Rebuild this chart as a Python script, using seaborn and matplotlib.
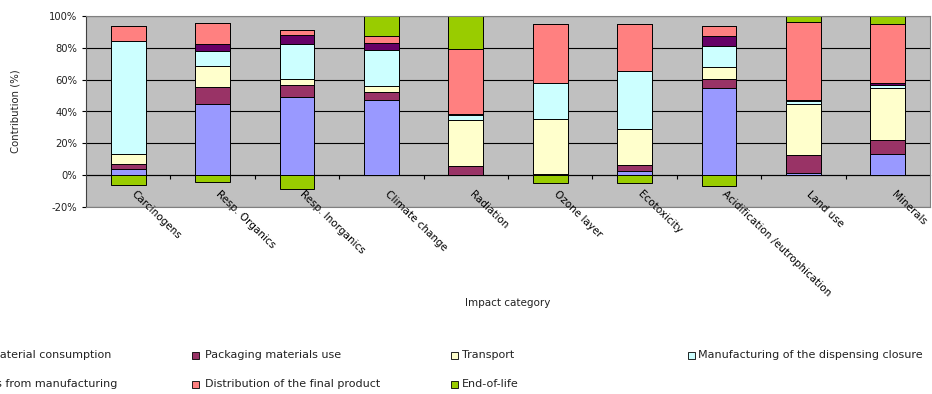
import matplotlib
matplotlib.use("Agg")
import matplotlib.pyplot as plt
from matplotlib.patches import Rectangle
import numpy as np
import seaborn as sns

# Impact categories on the x axis
categories = [
    "Carcinogens", "Resp. Organics", "Resp. Inorganics", "Climate change",
    "Radiation", "Ozone layer", "Ecotoxicity",
    "Acidification /eutrophication", "Land use", "Minerals",
]

# Contribution of each life-cycle stage (%) per impact category
raw_material = [3.6, 44.6, 49.2, 47.1, 0.0, 0.0, 2.5, 55.0, 1.5, 13.0]
packaging = [3.7, 10.9, 7.7, 5.2, 5.6, 0.5, 3.8, 5.4, 11.1, 9.0]
transport = [6.3, 13.4, 3.3, 3.6, 28.9, 34.6, 22.6, 7.7, 32.4, 32.8]
closure = [70.7, 9.0, 22.2, 23.0, 3.6, 23.0, 36.4, 13.0, 1.5, 1.7]
wastes = [0.3, 4.2, 5.4, 4.2, 0.2, 0.0, 0.4, 6.3, 0.6, 1.3]
distribution = [9.2, 13.6, 3.1, 4.2, 41.0, 37.0, 29.5, 6.1, 48.9, 37.0]
end_of_life = [-6.3, -4.2, -9.0, 12.7, 20.7, -4.8, -4.8, -6.5, 4.0, 5.2]

series_names = [
    "Raw material consumption", "Packaging materials use", "Transport",
    "Manufacturing of the dispensing closure", "Wastes from manufacturing",
    "Distribution of the final product", "End-of-life",
]
series_colors = ["#9999FF", "#993366", "#FFFFCC", "#CCFFFF",
                 "#660066", "#FF8080", "#99CC00"]
y_ticks = [-20, 0, 20, 40, 60, 80, 100]

sns.set_style("white")
plt.rcParams["font.family"] = ["DejaVu Sans"]

W, H = 932, 394
fig = plt.figure(figsize=(W / 100, H / 100), dpi=100)
ax = fig.add_axes([86 / W, 1 - 207 / H, (930 - 86) / W, (207 - 16) / H])
ax.set_facecolor("#C0C0C0")

values = np.array([raw_material, packaging, transport, closure,
                   wastes, distribution, end_of_life])
positive = np.clip(values, 0, None)
stack_tops = np.cumsum(positive, axis=0)
negative_eol = np.clip(values[-1], None, 0)

bar_kws = dict(width=0.41, saturation=1, edgecolor="black",
               linewidth=0.7, errorbar=None, ax=ax, order=categories)

# Stacked bars: draw cumulative totals from the top layer downwards
for k in range(len(series_names) - 1, -1, -1):
    sns.barplot(x=categories, y=stack_tops[k], color=series_colors[k], **bar_kws)
# Negative end-of-life credits below zero
sns.barplot(x=categories, y=negative_eol, color=series_colors[-1], **bar_kws)

ax.set_xlim(-0.5, len(categories) - 0.5)
ax.set_ylim(-20, 100)
ax.set_yticks(y_ticks)
ax.set_yticklabels([f"{t}%" for t in y_ticks], fontsize=7.2, color="#222222")
ax.tick_params(axis="y", direction="out", length=3, width=0.8,
               color="black", pad=3.5, left=True)
ax.set_xticks(range(len(categories)))
ax.set_xticklabels([])
ax.tick_params(axis="x", length=0)
ax.set_xlabel("")
ax.set_ylabel("")

ax.set_axisbelow(True)
ax.yaxis.grid(True, color="black", linewidth=0.8)
ax.xaxis.grid(False)
for side in ["top", "right", "bottom"]:
    ax.spines[side].set_color("#808080")
    ax.spines[side].set_linewidth(0.8)
ax.spines["left"].set_color("#404040")
ax.spines["left"].set_linewidth(0.8)

# Category axis crossing at 0 % with ticks between categories
zero_axis = ax.secondary_xaxis(1 / 6)
zero_axis.set_xticks(np.arange(0.5, len(categories) - 0.5, 1.0))
zero_axis.set_xticklabels([])
zero_axis.tick_params(axis="x", length=3, width=0.8, color="black",
                      direction="out")
for sp in zero_axis.spines.values():
    sp.set_color("black")
    sp.set_linewidth(0.8)

# Rotated category labels
for i, name in enumerate(categories):
    ax.text(i + 0.10, -8.8, name, rotation=-44, rotation_mode="anchor",
            ha="left", va="top", fontsize=7.5, color="black", clip_on=False)

fig.text(16 / W, 1 - 111 / H, "Contribution (%)", rotation=90,
         ha="center", va="center", fontsize=7.3, color="#222222")
fig.text(508 / W, 1 - 303 / H, "Impact category",
         ha="center", va="center", fontsize=7.5, color="#222222")

# Legend laid out in four columns and two rows
marker_x = [-51, 192, 451, 688]
text_x = [-38, 205, 462, 698]
row_y = [355, 384]
for idx, (name, col) in enumerate(zip(series_names, series_colors)):
    r, c = divmod(idx, 4)
    cy = row_y[r]
    fig.add_artist(Rectangle((marker_x[c] / W, 1 - (cy + 3.5) / H), 7 / W, 7 / H,
                             transform=fig.transFigure, facecolor=col,
                             edgecolor="black", linewidth=0.6))
    fig.text(text_x[c] / W, 1 - cy / H, name, ha="left", va="center",
             fontsize=8, color="#222222")

fig.savefig("out.png", dpi=100)
